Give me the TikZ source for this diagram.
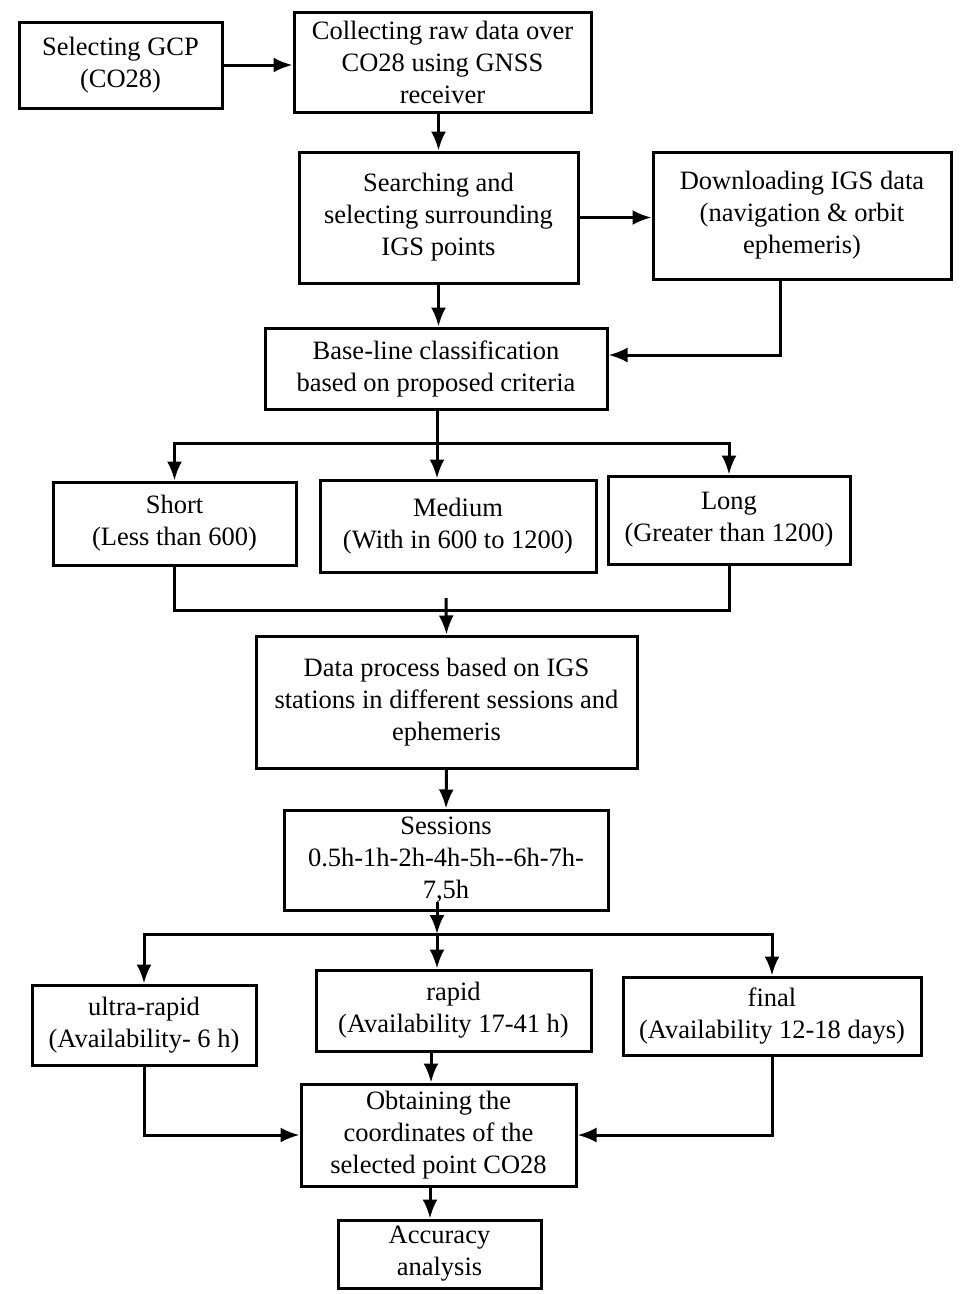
\documentclass[tikz,border=0pt]{standalone}
\usepackage{fontspec}
\setmainfont{Liberation Serif}
\usetikzlibrary{arrows.meta,calc}
\begin{document}
\begin{tikzpicture}[x=1pt,y=-1pt,
  box/.style={draw,line width=3pt,align=center,inner sep=0pt,
    font=\fontsize{26.5}{32}\selectfont},
  ln/.style={line width=3pt},
  arr/.style={line width=3pt,-{Latex[length=19pt,width=15pt]}}]
\useasboundingbox (0,0) rectangle (960,1294);
\fill[white] (0,0) rectangle (960,1294);
\node[box,minimum width=203pt,minimum height=86pt] (b1) at (120.5,65) {Selecting GCP\\(CO28)};
\node[box,minimum width=297pt,minimum height=100pt] (b2) at (442.5,62) {Collecting raw data over\\CO28 using GNSS\\receiver};
\node[box,minimum width=279pt,minimum height=131pt] (b3) at (438.5,217.5) {Searching and\\selecting surrounding\\IGS points};
\node[box,minimum width=298pt,minimum height=127pt] (b4) at (802,215.5) {Downloading IGS data\\(navigation \& orbit\\ephemeris)};
\node[box,minimum width=342pt,minimum height=81pt] (b5) at (436,368.5) {Base-line classification\\based on proposed criteria};
\node[box,minimum width=243pt,minimum height=83pt] (b6) at (174.5,523.5) {Short\\(Less than 600)};
\node[box,minimum width=276pt,minimum height=92pt] (b7) at (458,526) {Medium\\(With in 600 to 1200)};
\node[box,minimum width=242pt,minimum height=88pt] (b8) at (729,520) {Long\\(Greater than 1200)};
\node[box,minimum width=381pt,minimum height=132pt] (b9) at (446.5,702) {Data process based on IGS\\stations in different sessions and\\ephemeris};
\node[box,minimum width=324pt,minimum height=100pt] (b10) at (446,860) {Sessions\\0.5h-1h-2h-4h-5h-{}-6h-7h-\\7,5h};
\node[box,minimum width=224pt,minimum height=80pt] (b11) at (144,1025) {ultra-rapid\\(Availability- 6 h)};
\node[box,minimum width=275pt,minimum height=81pt] (b12) at (453.5,1010.5) {rapid\\(Availability 17-41 h)};
\node[box,minimum width=298pt,minimum height=78pt] (b13) at (772,1016) {final\\(Availability 12-18 days)};
\node[box,minimum width=275pt,minimum height=102pt] (b14) at (438.5,1135) {Obtaining the\\coordinates of the\\selected point CO28};
\node[box,minimum width=203pt,minimum height=68pt] (b15) at (439.5,1254) {Accuracy\\analysis};
\coordinate (s1) at (437,443);
\coordinate (m1) at (446,610);
\coordinate (s2) at (437,934);
% connectors
\draw[arr] (b1.east) -- (b2.west |- b1.east);
\draw[arr] (b2.south -| b3) -- (b3.north);
\draw[arr] (b3.east) -- (b4.west |- b3.east);
\draw[arr] (b3.south) -- (b5.north -| b3.south);
\draw[arr] ([xshift=-22pt]b4.south) |- ([yshift=13.5pt]b5.east);
\draw[ln] (b5.south -| s1) -- (s1);
\draw[arr] (s1) -- (s1 |- b7.north);
\draw[arr] (s1) -| (b6.north);
\draw[arr] (s1) -| (b8.north);
\draw[ln] (b6.south) |- (m1) -| (b8.south);
\draw[arr] ([yshift=12pt]m1) -- (b9.north);
\draw[arr] (b9.south) -- (b10.north);
\draw[arr] ([yshift=10pt]b10.south -| s2) -- (s2);
\draw[arr] (s2) -- (s2 |- b12.north);
\draw[arr] (s2) -| (b11.north);
\draw[arr] (s2) -| (b13.north);
\draw[arr] ([xshift=-22.5pt]b12.south) -- ([xshift=-22.5pt]b12.south |- b14.north);
\draw[arr] (b11.south) |- (b14.west);
\draw[arr] (b13.south) |- (b14.east);
\draw[arr] ([xshift=-8.5pt]b14.south) -- ([xshift=-8.5pt]b14.south |- b15.north);
\end{tikzpicture}
\end{document}
